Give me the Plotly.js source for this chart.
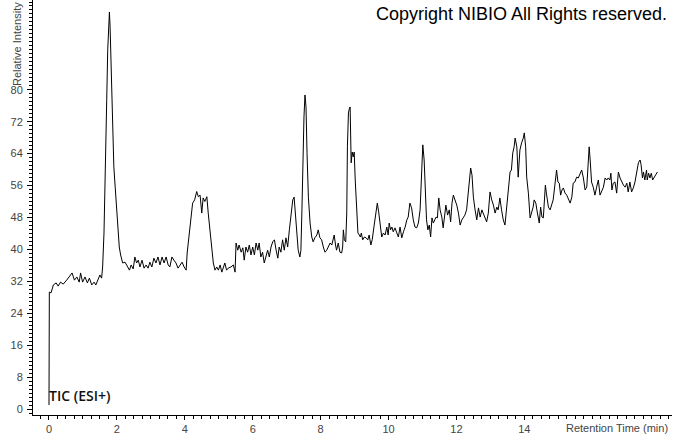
<!DOCTYPE html>
<html>
<head>
<meta charset="utf-8">
<script src="https://cdn.plot.ly/plotly-3.0.1.min.js"></script>
<style>html,body{margin:0;padding:0;background:#fff;}#chart{width:674px;height:434px;}</style>
</head>
<body>
<div id="chart"></div>
<script>
// Retention time (min)
const retentionTime = [
0.00,0.01,0.06,0.13,0.21,0.27,0.34,0.42,0.52,0.60,0.68,0.75,0.82,0.89,0.93,0.99,1.06,1.13,1.19,1.26,
1.33,1.38,1.45,1.50,1.55,1.58,1.62,1.65,1.68,1.70,1.73,1.76,1.78,1.80,1.83,1.86,1.89,1.91,1.95,1.99,
2.03,2.07,2.11,2.17,2.24,2.31,2.37,2.42,2.48,2.53,2.58,2.63,2.68,2.74,2.80,2.86,2.92,2.97,3.03,3.09,
3.15,3.21,3.27,3.33,3.39,3.45,3.51,3.56,3.62,3.68,3.74,3.80,3.86,3.92,3.98,4.04,4.07,4.13,4.17,4.23,
4.29,4.35,4.40,4.45,4.50,4.54,4.59,4.65,4.69,4.74,4.79,4.84,4.89,4.94,4.99,5.04,5.09,5.13,5.18,5.23,
5.28,5.36,5.43,5.48,5.51,5.56,5.60,5.66,5.71,5.75,5.80,5.85,5.90,5.95,6.00,6.05,6.10,6.15,6.19,6.24,
6.29,6.34,6.39,6.44,6.49,6.54,6.59,6.64,6.69,6.74,6.78,6.83,6.88,6.93,6.98,7.03,7.08,7.13,7.18,7.22,
7.25,7.30,7.34,7.39,7.42,7.45,7.48,7.51,7.54,7.57,7.60,7.64,7.69,7.74,7.78,7.83,7.89,7.93,7.98,8.03,
8.08,8.13,8.18,8.23,8.28,8.33,8.37,8.40,8.44,8.47,8.52,8.57,8.62,8.65,8.67,8.70,8.74,8.77,8.79,8.82,
8.85,8.87,8.90,8.93,8.96,8.99,9.02,9.06,9.10,9.14,9.17,9.20,9.24,9.29,9.34,9.39,9.43,9.48,9.52,9.57,
9.62,9.67,9.71,9.75,9.80,9.85,9.90,9.95,9.99,10.02,10.06,10.10,10.14,10.19,10.24,10.29,10.34,10.39,10.44,10.49,
10.54,10.58,10.63,10.68,10.73,10.78,10.83,10.88,10.93,10.98,11.01,11.05,11.08,11.12,11.16,11.20,11.24,11.28,11.32,11.36,
11.40,11.44,11.48,11.52,11.57,11.61,11.66,11.69,11.74,11.79,11.83,11.87,11.91,11.96,12.01,12.06,12.11,12.16,12.20,12.25,
12.30,12.35,12.40,12.42,12.46,12.50,12.55,12.60,12.65,12.70,12.75,12.79,12.84,12.89,12.94,12.99,13.04,13.09,13.14,13.19,
13.23,13.28,13.33,13.38,13.43,13.48,13.53,13.58,13.62,13.66,13.70,13.73,13.78,13.82,13.87,13.92,13.97,14.00,14.04,14.07,
14.12,14.17,14.22,14.26,14.29,14.34,14.37,14.41,14.44,14.48,14.52,14.56,14.59,14.62,14.65,14.68,14.71,14.76,14.81,14.85,
14.90,14.95,14.99,15.03,15.07,15.11,15.15,15.20,15.25,15.30,15.35,15.40,15.44,15.49,15.54,15.59,15.64,15.69,15.74,15.79,
15.84,15.88,15.91,15.94,15.98,16.03,16.08,16.13,16.18,16.23,16.28,16.33,16.38,16.43,16.47,16.52,16.55,16.58,16.62,16.67,
16.72,16.77,16.82,16.87,16.92,16.97,17.02,17.06,17.11,17.16,17.21,17.26,17.31,17.36,17.41,17.44,17.48,17.51,17.55,17.60,
17.62,17.66,17.70,17.74,17.78,17.82,17.86,17.92
];
// Relative intensity (%)
const relativeIntensity = [
1.0,29.3,29.1,31.1,31.6,30.8,31.8,31.3,32.3,33.1,34.1,32.3,33.1,31.8,34.1,31.8,33.1,31.6,32.8,31.1,
31.8,31.1,32.8,33.6,32.8,35.6,44.1,54.1,67.4,77.4,90.0,99.2,99.5,95.7,85.7,75.7,66.7,60.7,55.6,50.6,
45.6,40.6,38.6,36.6,36.8,35.6,34.8,36.1,35.1,38.1,36.6,37.3,35.6,37.3,35.3,36.1,35.3,36.8,35.6,37.8,
36.6,38.1,36.1,38.1,36.6,38.1,36.1,35.6,38.1,37.3,36.6,35.3,36.1,36.8,35.6,34.8,39.1,44.1,48.1,51.6,
52.4,54.5,53.2,53.6,49.1,52.9,52.0,53.2,49.1,44.9,41.6,36.6,34.8,35.6,34.8,36.1,34.3,35.6,36.6,34.8,
35.3,35.6,36.1,34.3,41.6,39.8,41.1,39.3,40.4,37.3,40.6,39.3,41.1,38.6,40.6,38.6,41.6,39.8,41.6,38.1,
39.3,36.6,38.6,39.8,38.1,40.6,41.9,42.4,39.8,37.8,40.6,39.3,42.4,39.8,42.9,40.6,44.9,48.1,52.4,53.1,
49.9,44.1,39.8,38.1,39.8,49.9,63.2,73.2,78.7,75.7,64.2,53.1,46.6,43.1,41.9,42.9,43.6,44.9,42.9,42.4,
40.6,39.3,39.8,40.6,41.6,41.1,42.4,43.6,41.1,39.8,41.6,39.3,39.1,40.6,44.9,42.4,41.9,49.1,65.7,74.2,
75.4,75.7,61.7,64.4,63.2,64.4,57.4,50.6,44.1,43.6,43.1,44.1,42.4,43.1,42.9,42.4,43.6,41.1,42.4,45.6,
49.1,51.6,49.4,46.6,43.1,44.1,43.6,45.6,43.6,46.6,44.9,45.6,44.4,45.4,44.1,43.1,45.6,42.9,44.4,45.6,
47.4,48.1,51.6,50.4,47.4,45.6,45.4,46.6,49.9,60.7,66.2,62.4,54.1,47.4,44.9,46.1,43.1,47.9,46.6,47.4,
48.1,47.9,52.9,49.9,48.1,45.4,49.1,51.1,48.6,49.9,46.9,51.6,53.6,52.4,51.1,49.1,46.1,47.4,47.9,48.6,
49.9,54.1,58.1,60.4,58.6,53.1,49.9,47.4,50.4,48.1,49.9,49.1,48.1,46.9,49.1,54.4,52.4,51.1,49.1,50.6,
49.9,52.9,49.9,47.4,46.1,49.9,54.9,59.4,59.9,64.2,65.7,67.9,65.7,58.1,64.9,66.7,67.9,69.2,65.7,58.1,
54.1,47.9,49.1,50.6,52.4,51.6,49.9,48.1,46.6,50.6,48.1,47.9,51.6,56.1,54.1,52.4,50.6,49.9,51.6,52.4,
56.1,59.9,56.9,56.6,53.6,54.9,55.4,54.1,53.6,52.4,51.6,53.1,56.6,56.9,58.1,57.9,59.1,59.9,57.9,54.9,
55.6,62.4,65.7,62.4,56.9,55.6,53.6,55.6,57.4,53.6,54.9,55.6,57.9,57.4,57.9,57.4,59.1,54.9,56.6,56.9,
54.1,59.4,57.9,56.9,56.1,55.6,56.6,54.4,56.9,54.4,55.4,56.9,59.1,61.7,62.4,61.2,57.9,59.4,57.4,59.9,
57.4,59.1,57.9,59.1,57.4,57.9,58.6,59.4
];
const xTickValues = [0, 2, 4, 6, 8, 10, 12, 14];
const yTickValues = [0, 8, 16, 24, 32, 40, 48, 56, 64, 72, 80];

const trace = {
  x: retentionTime,
  y: relativeIntensity,
  type: 'scatter',
  mode: 'lines',
  line: {color: '#000000', width: 1},
  hoverinfo: 'skip'
};

const tickFont = {family: 'Liberation Sans, Arial, sans-serif', size: 11, color: '#444444'};

const layout = {
  width: 674,
  height: 434,
  margin: {l: 33, r: 2, t: 0, b: 19, pad: 0},
  paper_bgcolor: '#ffffff',
  plot_bgcolor: '#ffffff',
  showlegend: false,
  xaxis: {
    range: [-0.471, 18.35],
    showgrid: false,
    zeroline: false,
    showline: true,
    linecolor: '#000000',
    linewidth: 1,
    tickmode: 'array',
    tickvals: xTickValues,
    ticktext: xTickValues.map(String),
    ticks: 'outside',
    ticklen: 4,
    tickwidth: 1,
    tickcolor: '#000000',
    tickfont: tickFont,
    ticklabelstandoff: 0,
    minor: {dtick: 0.25, tick0: 0, ticks: 'outside', ticklen: 3, tickcolor: '#000000', tickwidth: 1, showgrid: false}
  },
  yaxis: {
    range: [-1.5, 102.5],
    showgrid: false,
    zeroline: false,
    showline: true,
    linecolor: '#000000',
    linewidth: 1,
    tickmode: 'array',
    tickvals: yTickValues,
    ticktext: yTickValues.map(String),
    ticks: 'outside',
    ticklen: 5,
    tickwidth: 1,
    tickcolor: '#000000',
    tickfont: tickFont,
    ticklabelstandoff: 2,
    minor: {dtick: 1, tick0: 0, ticks: 'outside', ticklen: 3, tickcolor: '#000000', tickwidth: 1, showgrid: false}
  },
  annotations: [
    {
      text: 'Copyright NIBIO All Rights reserved.',
      xref: 'paper', yref: 'paper',
      x: 0.996, y: 0.966, xanchor: 'right', yanchor: 'middle',
      showarrow: false,
      font: {family: 'Liberation Sans, Arial, sans-serif', size: 18, color: '#000000'}
    },
    {
      text: 'TIC (ESI+)',
      xref: 'paper', yref: 'paper',
      x: 0.0219, y: 0.048, xanchor: 'left', yanchor: 'middle',
      showarrow: false,
      font: {family: 'Open Sans, sans-serif', size: 14, color: '#111111', weight: 600}
    },
    {
      text: 'Retention Time (min)',
      xref: 'paper', yref: 'paper',
      x: 0.997, y: -0.0313, xanchor: 'right', yanchor: 'middle',
      showarrow: false,
      font: {family: 'Liberation Sans Narrow, Liberation Sans, Arial, sans-serif', size: 11, color: '#444444'}
    },
    {
      text: 'Relative Intensity',
      xref: 'paper', yref: 'paper',
      x: -0.025, y: 1, xanchor: 'center', yanchor: 'top',
      textangle: -90,
      showarrow: false,
      font: {family: 'Liberation Sans Narrow, Liberation Sans, Arial, sans-serif', size: 11, color: '#444444'}
    }
  ]
};

Plotly.newPlot('chart', [trace], layout, {displayModeBar: false, staticPlot: true});
</script>
</body>
</html>
